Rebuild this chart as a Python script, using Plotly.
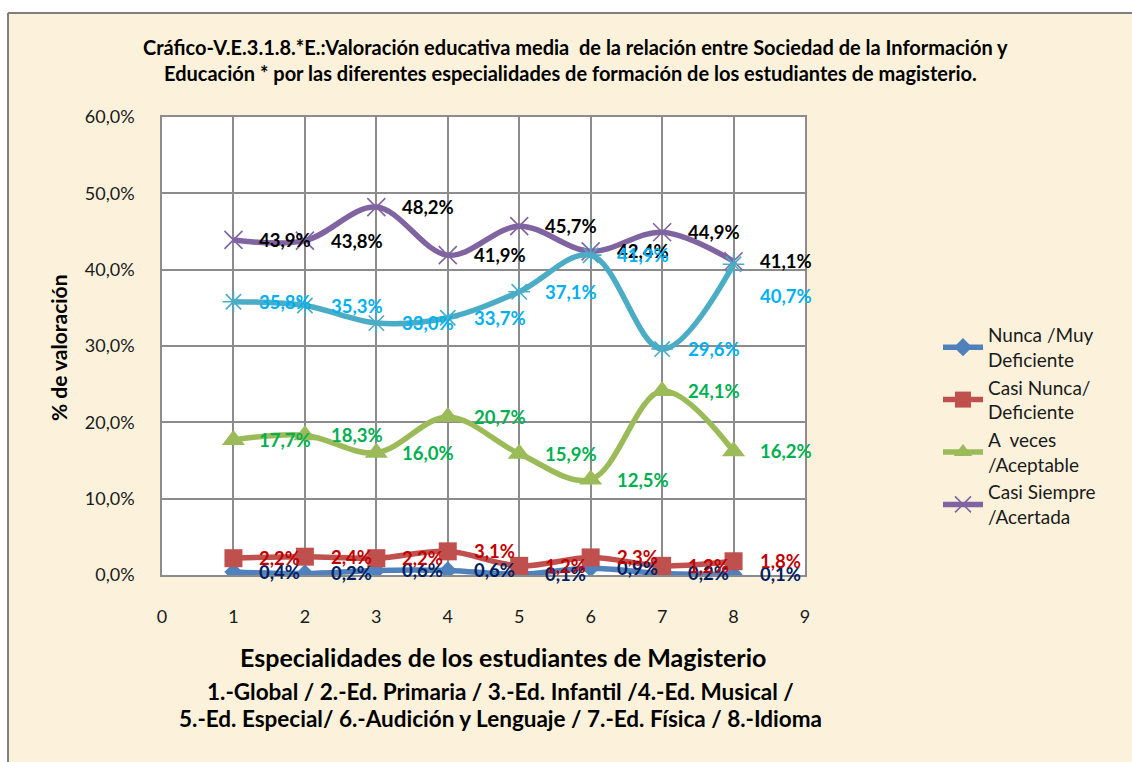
import plotly.graph_objects as go

# Specialty index (1..8) and the rating share per answer category (%)
especialidad = [1, 2, 3, 4, 5, 6, 7, 8]
nunca = [0.4, 0.2, 0.6, 0.6, 0.1, 0.9, 0.2, 0.1]
casi_nunca = [2.2, 2.4, 2.2, 3.1, 1.2, 2.3, 1.2, 1.8]
a_veces = [17.7, 18.3, 16.0, 20.7, 15.9, 12.5, 24.1, 16.2]
casi_siempre = [43.9, 43.8, 48.2, 41.9, 45.7, 42.4, 44.9, 41.1]
siempre = [35.8, 35.3, 33.0, 33.7, 37.1, 41.9, 29.6, 40.7]

y_ticks = [0, 10, 20, 30, 40, 50, 60]
y_tick_text = ["0,0%", "10,0%", "20,0%", "30,0%", "40,0%", "50,0%", "60,0%"]
x_ticks = [0, 1, 2, 3, 4, 5, 6, 7, 8, 9]

FONT = "Lato"
W, H = 1132, 762
L, R, T, B = 162, 327, 117, 187
PW, PH = W - L - R, H - T - B


def px_x(p):
    return (p - L) / PW


def px_y(p):
    return (H - B - p) / PH


series = [
    dict(name="Nunca /Muy<br>Deficiente", y=nunca, line="#4F81BD", text="#002060",
         symbol="diamond", size=14, legend=True, label_dy={}),
    dict(name="Casi Nunca/<br>Deficiente", y=casi_nunca, line="#C0504D", text="#C00000",
         symbol="square", size=18, legend=True, label_dy={}),
    dict(name="A  veces<br>/Aceptable", y=a_veces, line="#9BBB59", text="#00B050",
         symbol="triangle-up", size=20, legend=True, label_dy={}),
    dict(name="Casi Siempre<br>/Acertada", y=casi_siempre, line="#8064A2", text="#000000",
         symbol="x-thin-open", size=18, legend=True, label_dy={}),
    # last point's label is moved down so it does not sit on the one above
    dict(name="Siempre", y=siempre, line="#4BACC6", text="#00B0F0",
         symbol="asterisk-open", size=18, legend=False, label_dy={8: -32}),
]

fig = go.Figure()
annotations = []
for s in series:
    thin = s["symbol"].endswith("-open")
    fig.add_trace(go.Scatter(
        x=especialidad, y=s["y"], name=s["name"], showlegend=s["legend"],
        mode="lines+markers",
        line=dict(color=s["line"], width=5.5, shape="spline", smoothing=1),
        marker=dict(symbol=s["symbol"], size=s["size"], color=s["line"],
                    line=dict(color=s["line"], width=1.6 if thin else 0)),
    ))
    for xv, yv in zip(especialidad, s["y"]):
        annotations.append(dict(
            x=xv, y=yv, xref="x", yref="y", xanchor="left", yanchor="middle",
            xshift=24, yshift=s["label_dy"].get(xv, 0), showarrow=False,
            text=f"{yv:.1f}%".replace(".", ","),
            font=dict(family=FONT, size=18.5, color=s["text"], weight="bold"),
        ))

# Title, axis titles and the specialty key
annotations += [
    dict(x=px_x(575), y=px_y(47), xref="paper", yref="paper", showarrow=False,
         xanchor="center", yanchor="middle",
         text="Cráfico-V.E.3.1.8.*E.:Valoración educativa media  de la relación entre Sociedad de la Información y",
         font=dict(family=FONT, size=20, color="#000000", weight="bold")),
    dict(x=px_x(570), y=px_y(73), xref="paper", yref="paper", showarrow=False,
         xanchor="center", yanchor="middle",
         text="Educación * por las diferentes especialidades de formación de los estudiantes de magisterio.",
         font=dict(family=FONT, size=20, color="#000000", weight="bold")),
    dict(x=px_x(58), y=px_y(348), xref="paper", yref="paper", showarrow=False,
         xanchor="center", yanchor="middle", textangle=-90,
         text="% de valoración",
         font=dict(family=FONT, size=21, color="#000000", weight="bold")),
    dict(x=px_x(503), y=px_y(657), xref="paper", yref="paper", showarrow=False,
         xanchor="center", yanchor="middle",
         text="Especialidades de los estudiantes de Magisterio",
         font=dict(family=FONT, size=25, color="#000000", weight="bold")),
    dict(x=px_x(500), y=px_y(691), xref="paper", yref="paper", showarrow=False,
         xanchor="center", yanchor="middle",
         text="1.-Global / 2.-Ed. Primaria / 3.-Ed. Infantil /4.-Ed. Musical /",
         font=dict(family=FONT, size=22.5, color="#000000", weight="bold")),
    dict(x=px_x(500), y=px_y(718), xref="paper", yref="paper", showarrow=False,
         xanchor="center", yanchor="middle",
         text="5.-Ed. Especial/ 6.-Audición y Lenguaje / 7.-Ed. Física / 8.-Idioma",
         font=dict(family=FONT, size=22.5, color="#000000", weight="bold")),
]

shapes = [
    # white strips outside the chart frame
    dict(type="rect", xref="paper", yref="paper", x0=px_x(0), x1=px_x(W + 5),
         y0=px_y(12.5), y1=px_y(-5), fillcolor="white", line=dict(width=0), layer="below"),
    dict(type="rect", xref="paper", yref="paper", x0=px_x(-5), x1=px_x(7.5),
         y0=px_y(H + 5), y1=px_y(-5), fillcolor="white", line=dict(width=0), layer="below"),
    # chart frame
    dict(type="line", xref="paper", yref="paper", x0=px_x(8), x1=px_x(W + 5),
         y0=px_y(13), y1=px_y(13), line=dict(color="#7F7F7F", width=2)),
    dict(type="line", xref="paper", yref="paper", x0=px_x(8), x1=px_x(8),
         y0=px_y(13), y1=px_y(H + 5), line=dict(color="#7F7F7F", width=2)),
]

fig.update_layout(
    width=W, height=H,
    margin=dict(l=L, r=R, t=T, b=B, pad=0),
    paper_bgcolor="#FCF2DC",
    plot_bgcolor="#FFFFFF",
    font=dict(family=FONT, color="#1A1A1A"),
    annotations=annotations,
    shapes=shapes,
    showlegend=True,
    legend=dict(
        x=px_x(938), y=px_y(316), xanchor="left", yanchor="top",
        xref="paper", yref="paper",
        bgcolor="rgba(0,0,0,0)",
        font=dict(family=FONT, size=19, color="#1A1A1A"),
        itemwidth=40, tracegroupgap=0,
    ),
)

fig.update_xaxes(
    range=[0, 9], tickvals=x_ticks, showgrid=True, gridcolor="#8C8C8C", gridwidth=1.5,
    showline=True, linecolor="#8C8C8C", linewidth=1.5, mirror=True,
    zeroline=False, ticks="", ticklabelstandoff=25,
    tickfont=dict(family=FONT, size=18, color="#1A1A1A"),
)
fig.update_yaxes(
    range=[0, 60], tickvals=y_ticks, ticktext=y_tick_text,
    showgrid=True, gridcolor="#8C8C8C", gridwidth=1.5,
    showline=True, linecolor="#8C8C8C", linewidth=1.5, mirror=True,
    zeroline=False, ticks="", ticklabelstandoff=22,
    tickfont=dict(family=FONT, size=18, color="#1A1A1A"),
)

fig.write_html("out.html")
